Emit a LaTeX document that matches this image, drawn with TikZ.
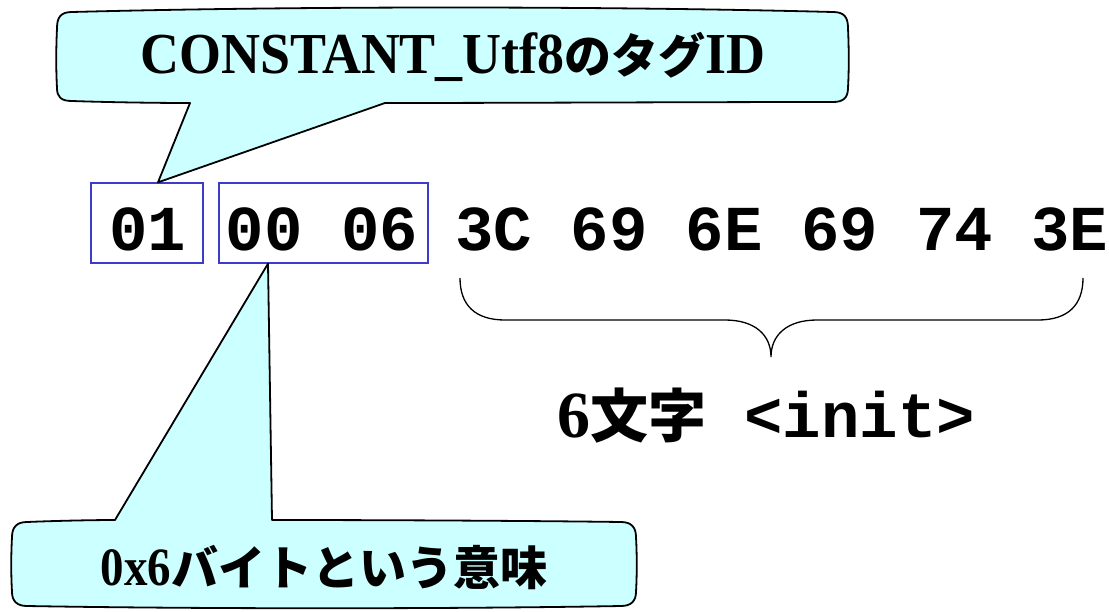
\documentclass[tikz,border=0pt]{standalone}
\usepackage{fontspec}
\setmainfont{Liberation Serif}
\setmonofont{Liberation Mono}
\newfontfamily\jp{Noto Sans CJK JP}
\definecolor{calloutfill}{RGB}{204,255,255}
\definecolor{boxblue}{RGB}{60,60,200}
\begin{document}
\begin{tikzpicture}[x=1pt,y=-1pt,
  callout/.style={fill=calloutfill,draw=black,line width=1.8pt,line join=round},
  hexbox/.style={draw=boxblue,line width=1.3pt,inner sep=0pt},
  hex/.style={font=\fontsize{64}{70}\selectfont\ttfamily\bfseries,anchor=base,inner sep=0pt},
  ctext/.style={anchor=base,inner sep=0pt},
  brace/.style={draw=black,line width=1.3pt}]
\useasboundingbox (0,0) rectangle (1109,611);

% boxes
\node[hexbox,minimum width=112pt,minimum height=80pt] (b1) at (147,223) {};
\node[hexbox,minimum width=209pt,minimum height=80pt] (b2) at (323.5,223) {};

% hex text
\node[hex] (t1) at (148,250) {01};
\node[hex] (t2) at (322,250) {00 06};
\node[hex] (t3) at (782,250) {3C 69 6E 69 74 3E};

% top callout
\coordinate (tipA) at ([xshift=11pt]b1.north);
\draw[callout] (72,12) .. controls (300,6) and (600,6) .. (833,12)
  .. controls (844,12) and (848,17) .. (848,28)
  .. controls (849,50) and (849,70) .. (848,88)
  .. controls (848,98) and (843,102) .. (833,102)
  .. controls (700,102) and (500,103) .. (385,103)
  -- (tipA) -- (190,103)
  .. controls (150,103) and (100,102) .. (72,101)
  .. controls (61,101) and (57,97) .. (57,88)
  .. controls (56,70) and (56,50) .. (57,28)
  .. controls (57,17) and (61,12) .. (72,12) -- cycle;
\node[ctext] (top) at (453,73) {\fontsize{58}{60}\selectfont\bfseries\scalebox{0.93}[1]{CONSTANT\_Utf8}{\fontsize{47}{50}\selectfont\jp\bfseries のタグ}\scalebox{0.93}[1]{ID}};

% bottom callout
\coordinate (tipB) at ([xshift=-55.5pt]b2.south);
\draw[callout] (27,522) .. controls (50,521) and (90,520) .. (115,520)
  -- (tipB) -- (272,520)
  .. controls (400,520) and (550,521) .. (621,522)
  .. controls (631,522) and (636,527) .. (636,537)
  .. controls (637,555) and (637,575) .. (636,592)
  .. controls (636,601) and (631,606) .. (621,606)
  .. controls (450,609) and (200,609) .. (27,606)
  .. controls (17,606) and (12,601) .. (12,592)
  .. controls (11,575) and (11,555) .. (12,537)
  .. controls (12,527) and (17,522) .. (27,522) -- cycle;
\node[ctext] (bot) at (324,585) {\fontsize{54}{56}\selectfont\bfseries\scalebox{0.87}[1]{0x6}{\fontsize{47}{50}\selectfont\jp\bfseries バイトという意味}};

% brace
\coordinate (bl) at (460,278);
\coordinate (br) at (1083,278);
\coordinate (bm) at (771,357);
\draw[brace] (bl) .. controls (460,305) and (475,320) .. (505,320)
  -- (725,320) .. controls (755,320) and (771,335) .. (bm)
  .. controls (771,335) and (787,320) .. (817,320)
  -- (1038,320) .. controls (1068,320) and (1083,305) .. (br);

% label
\node[ctext] (lab) at (766,437) {\fontsize{66}{70}\selectfont\bfseries 6{\fontsize{58}{60}\selectfont\jp\bfseries 文字}\texttt{\fontsize{64}{70}\selectfont{} <init>}};
\end{tikzpicture}
\end{document}
